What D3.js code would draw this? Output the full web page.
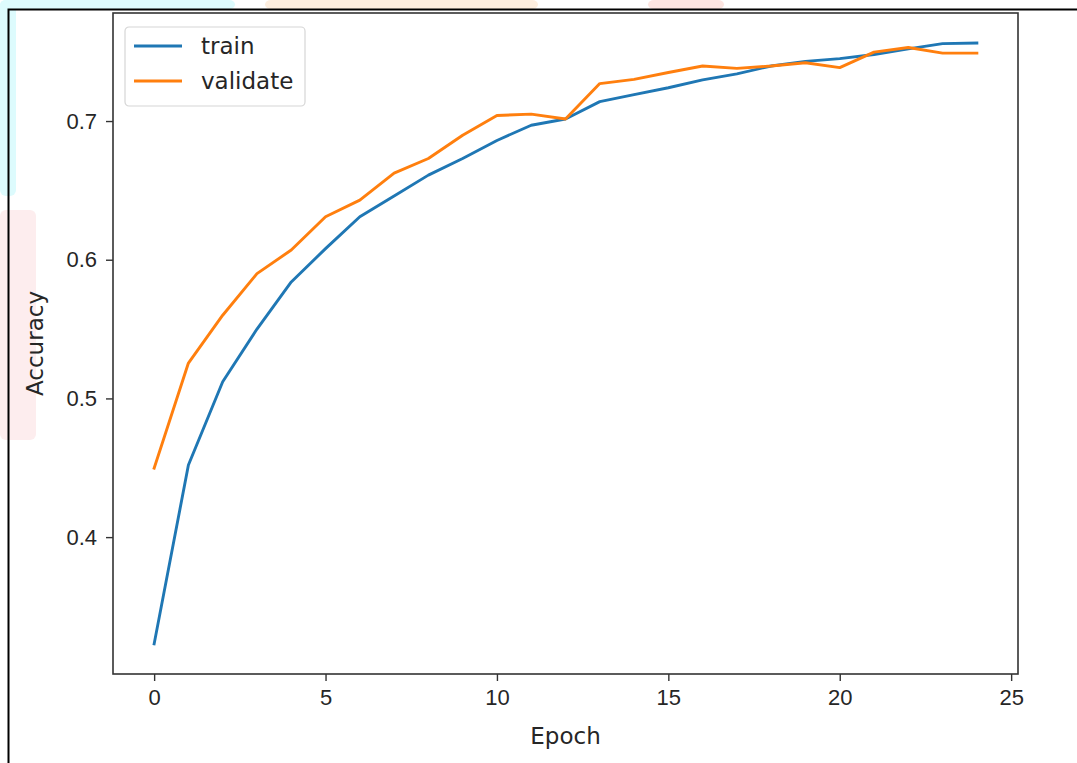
<!DOCTYPE html>
<html>
<head>
<meta charset="utf-8">
<script src="https://cdn.jsdelivr.net/npm/d3@7"></script>
<style>
	body { margin: 0; background: #fff; }
	svg { display: block; font-family: "DejaVu Sans", sans-serif; }
	.tick text { fill: #262626; font-size: 22px; }
	.tick line { stroke: #333; stroke-width: 1.4; }
	.domain { display: none; }
</style>
</head>
<body>
<script>
//chart data
var epochs = d3.range(0, 25);
var train = [0.323, 0.452, 0.512, 0.550, 0.584, 0.608, 0.631, 0.646, 0.661, 0.673,
	0.686, 0.697, 0.7015, 0.714, 0.719, 0.724, 0.7297, 0.734, 0.7397, 0.743,
	0.745, 0.748, 0.752, 0.7558, 0.7562];
var validate = [0.4497, 0.5255, 0.560, 0.590, 0.607, 0.631, 0.643, 0.6625, 0.673, 0.6898,
	0.704, 0.705, 0.7015, 0.727, 0.730, 0.735, 0.7397, 0.738, 0.7397, 0.742,
	0.7385, 0.7497, 0.753, 0.749, 0.749];
var xTicks = [0, 5, 10, 15, 20, 25];
var yTicks = [0.4, 0.5, 0.6, 0.7];
var seriesNames = ["train", "validate"];
var seriesColors = ["#1f77b4", "#ff7f0e"];

window.onload = drawChart();

function drawChart(){
	var width = 1077,
		height = 763;

	var svg = d3.select("body")
		.append("svg")
		.attr("width", width)
		.attr("height", height);

	//faint watermark blobs behind the figure
	var blobs = [
		{x: 0, y: 0, w: 235, h: 9, c: "#ddfbfd"},
		{x: 0, y: 0, w: 16, h: 196, c: "#ddfbfd"},
		{x: 265, y: 0, w: 273, h: 9, c: "#fdeedf"},
		{x: 648, y: 0, w: 76, h: 9, c: "#fde5e1"},
		{x: 0, y: 210, w: 36, h: 230, c: "#fdedee"}
	];
	svg.selectAll(".blob")
		.data(blobs)
		.enter()
		.append("rect")
		.attr("class", "blob")
		.attr("x", function(d){ return d.x; })
		.attr("y", function(d){ return d.y; })
		.attr("width", function(d){ return d.w; })
		.attr("height", function(d){ return d.h; })
		.attr("rx", 6)
		.attr("fill", function(d){ return d.c; });

	//outer frame of the screenshot (top and left only)
	svg.append("path")
		.attr("d", "M8.5," + height + "V9.5H" + width)
		.attr("fill", "none")
		.attr("stroke", "#000")
		.attr("stroke-width", 2);

	var left = 113, right = 1018, top = 13, bottom = 674;

	var x = d3.scaleLinear()
		.domain([-1.2, 25.2])
		.range([left, right]);

	var y = d3.scaleLinear()
		.domain([0.3013, 0.7779])
		.range([bottom, top]);

	svg.append("rect")
		.attr("x", left)
		.attr("y", top)
		.attr("width", right - left)
		.attr("height", bottom - top)
		.attr("fill", "#fff");

	//axes
	svg.append("g")
		.attr("transform", "translate(0," + bottom + ")")
		.call(d3.axisBottom(x).tickValues(xTicks).tickSize(7).tickPadding(8).tickFormat(d3.format("d")));

	svg.append("g")
		.attr("transform", "translate(" + left + ",0)")
		.call(d3.axisLeft(y).tickValues(yTicks).tickSize(7).tickPadding(9).tickFormat(d3.format(".1f")));

	//lines
	var line = d3.line()
		.x(function(d, i){ return x(epochs[i]); })
		.y(function(d){ return y(d); });

	svg.selectAll(".series")
		.data([train, validate])
		.enter()
		.append("path")
		.attr("class", "series")
		.attr("d", line)
		.attr("fill", "none")
		.attr("stroke", function(d, i){ return seriesColors[i]; })
		.attr("stroke-width", 2.9)
		.attr("stroke-linejoin", "round")
		.attr("stroke-linecap", "square");

	//plot frame
	svg.append("rect")
		.attr("x", left)
		.attr("y", top)
		.attr("width", right - left)
		.attr("height", bottom - top)
		.attr("fill", "none")
		.attr("stroke", "#333")
		.attr("stroke-width", 1.6);

	//axis labels
	svg.append("text")
		.attr("x", (left + right) / 2)
		.attr("y", 744)
		.attr("text-anchor", "middle")
		.attr("font-size", 23)
		.attr("fill", "#262626")
		.text("Epoch");

	svg.append("text")
		.attr("transform", "translate(43," + (top + bottom) / 2 + ") rotate(-90)")
		.attr("text-anchor", "middle")
		.attr("font-size", 23)
		.attr("fill", "#262626")
		.text("Accuracy");

	//legend
	var legend = svg.append("g")
		.attr("transform", "translate(125,27)");

	legend.append("rect")
		.attr("width", 180)
		.attr("height", 79)
		.attr("rx", 4)
		.attr("fill", "#fff")
		.attr("fill-opacity", 0.8)
		.attr("stroke", "#d6d6d6")
		.attr("stroke-width", 1.2);

	var items = legend.selectAll(".item")
		.data(seriesNames)
		.enter()
		.append("g")
		.attr("class", "item")
		.attr("transform", function(d, i){ return "translate(0," + (19 + i * 35) + ")"; });

	items.append("line")
		.attr("x1", 9)
		.attr("x2", 57)
		.attr("stroke", function(d, i){ return seriesColors[i]; })
		.attr("stroke-width", 2.9);

	items.append("text")
		.attr("x", 76)
		.attr("dy", "0.35em")
		.attr("font-size", 23)
		.attr("fill", "#262626")
		.text(function(d){ return d; });
};
</script>
</body>
</html>
